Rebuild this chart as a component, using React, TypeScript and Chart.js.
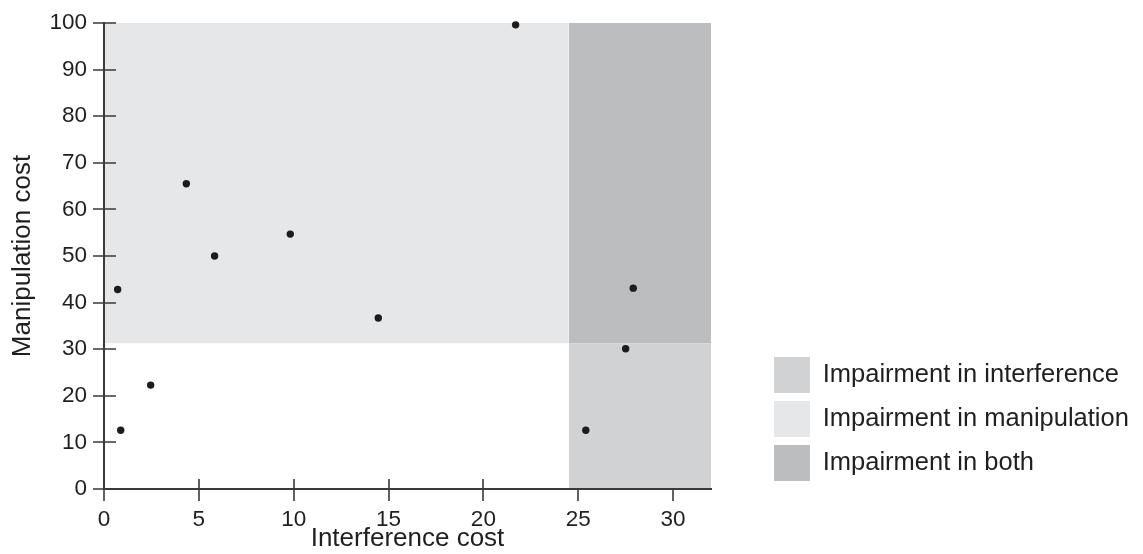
import React, { useEffect, useRef } from 'react';
import { Chart, registerables } from 'chart.js';

Chart.register(...registerables);

// ---- data ----
const interferenceCost = [0.72, 0.88, 2.46, 4.34, 5.83, 9.82, 14.46, 21.7, 25.4, 27.5, 27.9];
const manipulationCost = [42.8, 12.6, 22.3, 65.5, 50.0, 54.7, 36.7, 99.6, 12.6, 30.1, 43.1];

const interferenceThreshold = 24.5;
const manipulationThreshold = 31.3;

const xMin = 0;
const xMax = 32;
const xStep = 5;
const yMin = 0;
const yMax = 100;
const yStep = 10;

const xTitle = 'Interference cost';
const yTitle = 'Manipulation cost';

const legendLabels = ['Impairment in interference', 'Impairment in manipulation', 'Impairment in both'];
const regionColors = ['#d1d2d4', '#e6e7e8', '#bcbdbf'];
const regionXFrom = [interferenceThreshold, xMin, interferenceThreshold];
const regionXTo = [xMax, interferenceThreshold, xMax];
const regionFill = ['origin', 'end', 'end'];

const FONT = "'Liberation Sans', Arial, Helvetica, sans-serif";
const AXIS_COLOR = '#3a3a3a';
const TEXT_COLOR = '#1f1f1f';

const LEGEND_FONT_SIZE = 25.5;
const LEGEND_BOX = 36;
const LEGEND_PAD = 8;
const LEGEND_LEFT = 766;
const CHART_RIGHT = 711;
const CHART_LEFT = 104;

const tickMarks = {
  id: 'tickMarks',
  afterDraw(chart: any) {
    const { ctx, chartArea, scales } = chart;
    const xs = scales.x;
    const ys = scales.y;
    ctx.save();
    ctx.strokeStyle = AXIS_COLOR;
    ctx.lineWidth = 1.6;
    ctx.beginPath();
    xs.ticks.forEach((t: any) => {
      const px = Math.round(xs.getPixelForValue(t.value));
      // inside the interference band the inner half of the tick is hidden by the shading
      const inner = t.value < interferenceThreshold ? 10 : 0;
      ctx.moveTo(px, chartArea.bottom - inner);
      ctx.lineTo(px, chartArea.bottom + 12);
    });
    ys.ticks.forEach((t: any) => {
      const py = Math.round(ys.getPixelForValue(t.value));
      ctx.moveTo(chartArea.left - 11, py);
      ctx.lineTo(chartArea.left + 12, py);
    });
    ctx.stroke();
    ctx.restore();
  },
};

export default function App() {
  const canvasRef = useRef<HTMLCanvasElement | null>(null);

  useEffect(() => {
    if (!canvasRef.current) return;
    Chart.defaults.font.family = FONT;

    // measure legend text so the legend box fits its labels exactly
    const mctx = document.createElement('canvas').getContext('2d') as CanvasRenderingContext2D;
    mctx.font = `${LEGEND_FONT_SIZE}px ${FONT}`;
    const textW = Math.max(...legendLabels.map((l) => mctx.measureText(l).width));
    const legendW = LEGEND_PAD + LEGEND_BOX + LEGEND_FONT_SIZE / 2 + textW + 10;
    const padRight = Math.max(0, 1143 - LEGEND_LEFT - legendW);

    const regionDatasets = legendLabels.map((label, i) => ({
      type: 'line' as const,
      label,
      data: [
        { x: regionXFrom[i], y: manipulationThreshold },
        { x: regionXTo[i], y: manipulationThreshold },
      ],
      fill: regionFill[i],
      backgroundColor: regionColors[i],
      borderColor: 'rgba(0,0,0,0)',
      borderWidth: 0,
      pointRadius: 0,
      tension: 0,
      order: 2,
      xAxisID: 'x',
      yAxisID: 'y',
    }));

    const points = interferenceCost.map((x, i) => ({ x, y: manipulationCost[i] }));

    const chart = new Chart(canvasRef.current, {
      type: 'scatter',
      data: {
        datasets: [
          ...regionDatasets,
          {
            type: 'scatter' as const,
            label: 'participants',
            data: points,
            backgroundColor: '#1c1c1c',
            borderWidth: 0,
            pointRadius: 3.7,
            clip: false as any,
            order: 0,
            xAxisID: 'x',
            yAxisID: 'y',
          },
        ] as any,
      },
      options: {
        responsive: false,
        animation: false,
        events: [],
        layout: { padding: { top: 23, right: padRight, bottom: 0, left: 0 } },
        scales: {
          x: {
            type: 'linear',
            position: 'bottom',
            min: xMin,
            max: xMax,
            ticks: {
              stepSize: xStep,
              includeBounds: false,
              padding: 17,
              color: TEXT_COLOR,
              font: { size: 22.5, family: FONT },
              maxRotation: 0,
            },
            grid: { display: false, drawTicks: false },
            border: { display: true, color: AXIS_COLOR, width: 2, z: 1 },
            title: {
              display: true,
              text: xTitle,
              color: TEXT_COLOR,
              font: { size: 26, family: FONT },
              padding: { top: 0, bottom: 0 },
            },
            afterFit: (s: any) => {
              s.height = 65;
              s.paddingLeft = 0;
              s.paddingRight = 0;
            },
          },
          y: {
            type: 'linear',
            position: 'left',
            min: yMin,
            max: yMax,
            ticks: {
              stepSize: yStep,
              padding: 17,
              color: TEXT_COLOR,
              font: { size: 22.5, family: FONT },
            },
            grid: { display: false, drawTicks: false },
            border: { display: true, color: AXIS_COLOR, width: 2, z: 1 },
            title: {
              display: true,
              text: yTitle,
              color: TEXT_COLOR,
              font: { size: 26, family: FONT },
              padding: { top: 7, bottom: 0 },
            },
            afterFit: (s: any) => {
              s.width = CHART_LEFT;
              s.paddingTop = 0;
              s.paddingBottom = 0;
            },
          },
          gap: {
            type: 'linear',
            position: 'right',
            display: true,
            grid: { display: false, drawTicks: false },
            border: { display: false },
            ticks: { display: false },
            afterFit: (s: any) => {
              s.width = LEGEND_LEFT - CHART_RIGHT;
              s.paddingTop = 0;
              s.paddingBottom = 0;
            },
          },
        } as any,
        plugins: {
          legend: {
            display: true,
            position: 'right',
            align: 'end',
            fullSize: false,
            maxWidth: legendW + 2,
            labels: {
              boxWidth: LEGEND_BOX,
              boxHeight: LEGEND_BOX,
              padding: LEGEND_PAD,
              color: TEXT_COLOR,
              font: { size: LEGEND_FONT_SIZE, family: FONT },
              filter: (item: any) => legendLabels.includes(item.text),
            },
          },
          tooltip: { enabled: false },
        },
      },
      plugins: [tickMarks],
    });

    return () => {
      chart.destroy();
    };
  }, []);

  return (
    <div style={{ position: 'absolute', left: 0, top: 0, width: 1143, height: 554, background: '#fff' }}>
      <canvas ref={canvasRef} width={1143} height={554} style={{ display: 'block' }} />
    </div>
  );
}
